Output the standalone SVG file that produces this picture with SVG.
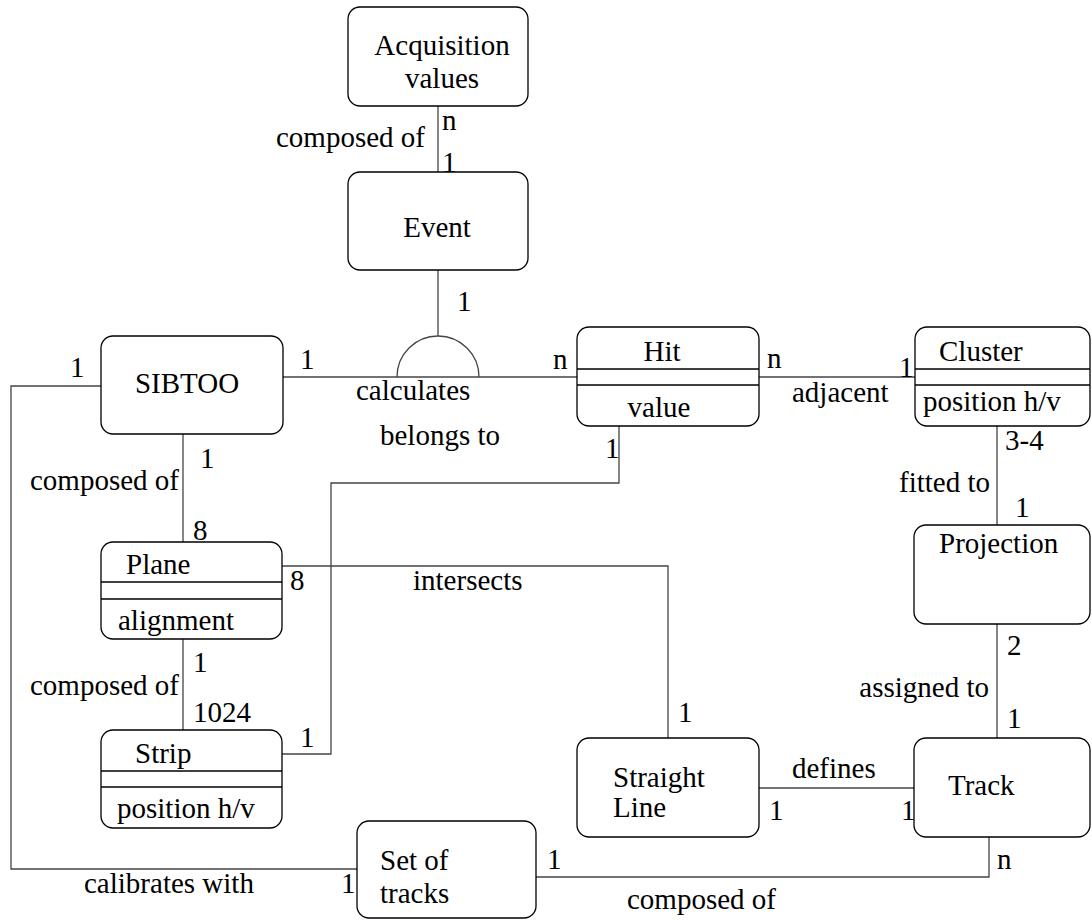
<svg xmlns="http://www.w3.org/2000/svg" width="1092" height="920" viewBox="0 0 1092 920" font-family="'Liberation Serif', 'DejaVu Serif', serif">
  <style>
    .box { fill: #ffffff; stroke: #000000; stroke-width: 1.3; }
    .div { stroke: #000000; stroke-width: 1.3; }
    .edge { fill: none; stroke: #444444; stroke-width: 1.3; }
    text { font-family: 'Liberation Serif', 'DejaVu Serif', serif; font-size: 29px; fill: #000000; }
    .c { text-anchor: middle; }
    .e { text-anchor: end; }
  </style>
  <rect width="1092" height="920" fill="#ffffff"/>

  <!-- relationship lines -->
  <g id="connectors">
    <line class="edge" x1="438" y1="106" x2="438" y2="172"/>
    <line class="edge" x1="438" y1="270" x2="438" y2="336"/>
    <path class="edge" d="M397,377 A41,41 0 0 1 479,377"/>
    <line class="edge" x1="283" y1="377" x2="577" y2="377"/>
    <line class="edge" x1="759" y1="377" x2="915" y2="377"/>
    <line class="edge" x1="997" y1="426" x2="997" y2="525"/>
    <line class="edge" x1="997" y1="624" x2="997" y2="738"/>
    <line class="edge" x1="759" y1="788" x2="914" y2="788"/>
    <path class="edge" d="M989,837 V877 H536"/>
    <path class="edge" d="M101,386 H11 V869 H357"/>
    <line class="edge" x1="183" y1="434" x2="183" y2="542"/>
    <line class="edge" x1="183" y1="639" x2="183" y2="730"/>
    <path class="edge" d="M619,426 V483 H331 V754 H282"/>
    <path class="edge" d="M282,566 H668 V738"/>
  </g>

  <g id="acquisition-values">
    <rect class="box" x="348" y="7" width="180" height="99" rx="12"/>
    <text class="c" x="442" y="55">Acquisition</text>
    <text class="c" x="442" y="88">values</text>
  </g>

  <g id="event">
    <rect class="box" x="348" y="172" width="180" height="98" rx="12"/>
    <text class="c" x="437" y="237">Event</text>
  </g>

  <g id="sibtoo">
    <rect class="box" x="101" y="336" width="182" height="98" rx="12"/>
    <text class="c" x="187" y="393">SIBTOO</text>
  </g>

  <g id="hit">
    <rect class="box" x="577" y="327" width="182" height="99" rx="12"/>
    <line class="div" x1="577" y1="369" x2="759" y2="369"/>
    <line class="div" x1="577" y1="385" x2="759" y2="385"/>
    <text class="c" x="662" y="361">Hit</text>
    <text class="c" x="659" y="417">value</text>
  </g>

  <g id="cluster">
    <rect class="box" x="915" y="327" width="175" height="99" rx="12"/>
    <line class="div" x1="915" y1="369" x2="1090" y2="369"/>
    <line class="div" x1="915" y1="385" x2="1090" y2="385"/>
    <text x="939" y="361">Cluster</text>
    <text x="923" y="411">position h/v</text>
  </g>

  <g id="projection">
    <rect class="box" x="914" y="525" width="176" height="99" rx="12"/>
    <text x="939" y="553">Projection</text>
  </g>

  <g id="plane">
    <rect class="box" x="101" y="542" width="181" height="97" rx="12"/>
    <line class="div" x1="101" y1="582" x2="282" y2="582"/>
    <line class="div" x1="101" y1="599" x2="282" y2="599"/>
    <text x="126" y="574">Plane</text>
    <text x="118" y="630">alignment</text>
  </g>

  <g id="strip">
    <rect class="box" x="101" y="730" width="181" height="98" rx="12"/>
    <line class="div" x1="101" y1="771" x2="282" y2="771"/>
    <line class="div" x1="101" y1="787" x2="282" y2="787"/>
    <text x="135" y="763">Strip</text>
    <text x="117" y="818">position h/v</text>
  </g>

  <g id="straight-line">
    <rect class="box" x="577" y="738" width="182" height="99" rx="12"/>
    <text x="613" y="787">Straight</text>
    <text x="613" y="817">Line</text>
  </g>

  <g id="track">
    <rect class="box" x="914" y="738" width="176" height="99" rx="12"/>
    <text x="948" y="795">Track</text>
  </g>

  <g id="set-of-tracks">
    <rect class="box" x="357" y="821" width="179" height="97" rx="12"/>
    <text x="380" y="870">Set of</text>
    <text x="380" y="903">tracks</text>
  </g>

  <!-- role names and multiplicities -->
  <g id="labels">
    <text class="e" x="425" y="147">composed of</text>
    <text x="442" y="130">n</text>
    <text x="442" y="172">1</text>
    <text x="457" y="311">1</text>
    <text x="300" y="369">1</text>
    <text x="553" y="369">n</text>
    <text x="356" y="400">calculates</text>
    <text x="70" y="377">1</text>
    <text x="767" y="368">n</text>
    <text x="792" y="402">adjacent</text>
    <text x="899" y="377">1</text>
    <text x="1005" y="450">3-4</text>
    <text class="e" x="990" y="492">fitted to</text>
    <text x="1015" y="517">1</text>
    <text x="605" y="458">1</text>
    <text x="380" y="445">belongs to</text>
    <text x="200" y="468">1</text>
    <text class="e" x="179" y="490">composed of</text>
    <text x="193" y="540">8</text>
    <text x="290" y="590">8</text>
    <text x="413" y="590">intersects</text>
    <text x="193" y="672">1</text>
    <text class="e" x="179" y="695">composed of</text>
    <text x="193" y="722">1024</text>
    <text x="300" y="747">1</text>
    <text x="678" y="722">1</text>
    <text x="1007" y="655">2</text>
    <text class="e" x="989" y="697">assigned to</text>
    <text x="1007" y="728">1</text>
    <text x="792" y="778">defines</text>
    <text x="769" y="820">1</text>
    <text x="901" y="820">1</text>
    <text x="997" y="869">n</text>
    <text x="547" y="869">1</text>
    <text x="627" y="909">composed of</text>
    <text x="84" y="893">calibrates with</text>
    <text x="341" y="893">1</text>
  </g>
</svg>
